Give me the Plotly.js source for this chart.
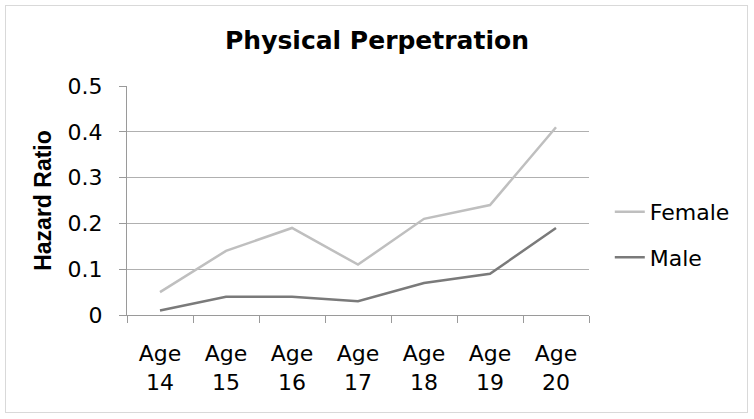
<!DOCTYPE html>
<html>
<head>
<meta charset="utf-8">
<script src="https://cdn.plot.ly/plotly-3.0.1.min.js"></script>
<style>
  html, body { margin: 0; padding: 0; background: #fff; }
  #wrap { position: relative; width: 754px; height: 419px; }
  #chart { width: 754px; height: 419px; }
  #frame { position: absolute; left: 5px; top: 5px; width: 741px; height: 406px;
           border: 1px solid #d9d9d9; pointer-events: none; }
</style>
</head>
<body>
<div id="wrap"><div id="chart"></div><div id="frame"></div></div>
<script>
const categories = ["Age<br>14", "Age<br>15", "Age<br>16", "Age<br>17", "Age<br>18", "Age<br>19", "Age<br>20"];
const femaleValues = [0.05, 0.14, 0.19, 0.11, 0.21, 0.24, 0.41];
const maleValues = [0.01, 0.04, 0.04, 0.03, 0.07, 0.09, 0.19];
const yTickValues = [0, 0.1, 0.2, 0.3, 0.4, 0.5];
const yTickLabels = ["0", "0.1", "0.2", "0.3", "0.4", "0.5"];

const FONT = "DejaVu Sans, sans-serif";

const traces = [
  { x: categories, y: femaleValues, name: "Female", type: "scatter", mode: "lines",
    legendgroup: "f", line: { color: "#bfbfbf", width: 2.5 } },
  { x: categories, y: maleValues, name: "Male", type: "scatter", mode: "lines",
    legendgroup: "m", line: { color: "#7a7a7a", width: 2.5 } }
];

const layout = {
  width: 754, height: 419,
  margin: { l: 127, r: 165, t: 86, b: 104 },
  paper_bgcolor: "#fff", plot_bgcolor: "#fff",
  font: { family: FONT, color: "#000", size: 22 },
  title: { text: "<b>Physical Perpetration</b>", x: 0.5, xanchor: "center",
           y: 0.905, yanchor: "middle", font: { family: FONT, size: 25, color: "#000" } },
  xaxis: {
    type: "category", range: [-0.5, 6.5], tickson: "boundaries", ticks: "outside", ticklen: 7,
    tickcolor: "#9a9a9a", tickwidth: 1, showgrid: false, showline: true,
    linecolor: "#9a9a9a", linewidth: 1, zeroline: false,
    tickfont: { family: FONT, size: 22, color: "#000" }, ticklabelstandoff: 19,
    fixedrange: true
  },
  yaxis: {
    range: [0, 0.5], tickvals: yTickValues, ticktext: yTickLabels,
    ticks: "outside", ticklen: 7, tickcolor: "#9a9a9a", tickwidth: 1,
    showgrid: true, gridcolor: "#b0b0b0", gridwidth: 1,
    showline: true, linecolor: "#9a9a9a", linewidth: 1, zeroline: false,
    tickfont: { family: FONT, size: 22, color: "#000" }, ticklabelstandoff: 12,
    title: { text: "<b>Hazard Ratio</b>", font: { family: "Liberation Sans, Arial, sans-serif", size: 23, color: "#000" }, standoff: 9 },
    fixedrange: true
  },
  showlegend: true,
  legend: { x: 1.045, y: 0.35, xanchor: "left", yanchor: "middle",
            font: { family: FONT, size: 22, color: "#000" },
            traceorder: "grouped", tracegroupgap: 14, bgcolor: "rgba(0,0,0,0)" }
};

Plotly.newPlot("chart", traces, layout, { displayModeBar: false, staticPlot: true });
</script>
</body>
</html>
